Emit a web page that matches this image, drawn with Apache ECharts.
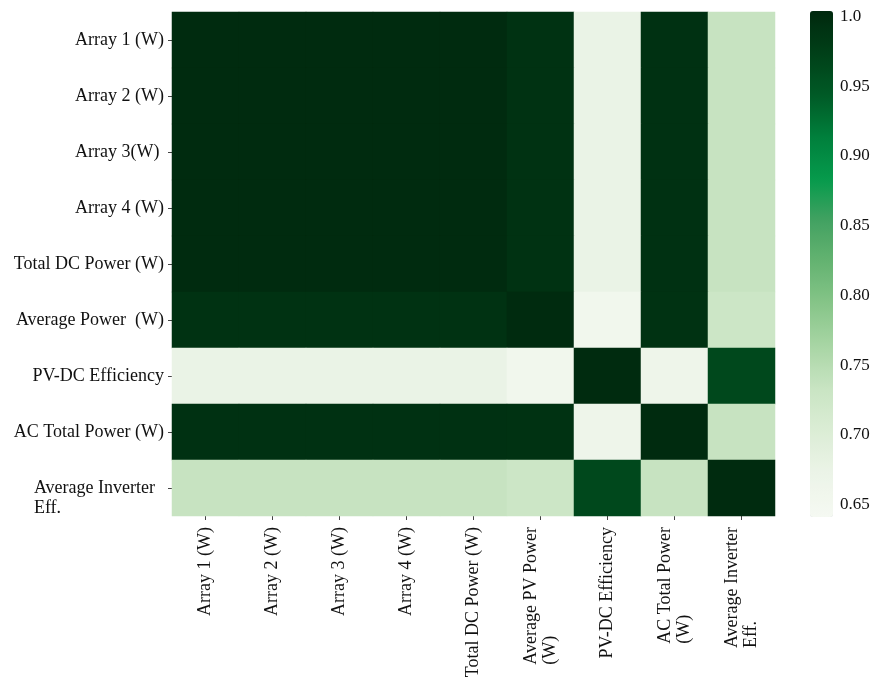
<!DOCTYPE html>
<html>
<head>
<meta charset="utf-8">
<script src="https://cdn.jsdelivr.net/npm/echarts@6/dist/echarts.min.js"></script>
<style>
    html, body { margin: 0; padding: 0; background: #fff; }
    #main { width: 875px; height: 695px; }
</style>
</head>
<body>
<div id="main"></div>
<script>
var rowLabels = ['Array 1 (W)', 'Array 2 (W)', 'Array 3(W) ', 'Array 4 (W)', 'Total DC Power (W)',
    'Average Power  (W)', 'PV-DC Efficiency', 'AC Total Power (W)', 'Average Inverter  \nEff.'];
var colLabels = ['Array 1 (W)', 'Array 2 (W)', 'Array 3 (W)', 'Array 4 (W)', 'Total DC Power (W)',
    'Average PV Power\n(W)', 'PV-DC Efficiency', 'AC Total Power\n(W)', 'Average Inverter\nEff.'];

// one array per row of the correlation matrix
var rowArray1 = [1.00, 1.00, 1.00, 1.00, 1.00, 0.992, 0.675, 0.993, 0.735];
var rowArray2 = [1.00, 1.00, 1.00, 1.00, 1.00, 0.992, 0.675, 0.993, 0.735];
var rowArray3 = [1.00, 1.00, 1.00, 1.00, 1.00, 0.992, 0.675, 0.993, 0.735];
var rowArray4 = [1.00, 1.00, 1.00, 1.00, 1.00, 0.992, 0.675, 0.993, 0.735];
var rowTotalDC = [1.00, 1.00, 1.00, 1.00, 1.00, 0.992, 0.675, 0.993, 0.735];
var rowAvgPower = [0.992, 0.992, 0.992, 0.992, 0.992, 1.00, 0.655, 0.992, 0.728];
var rowPVDC = [0.675, 0.675, 0.675, 0.675, 0.675, 0.655, 1.00, 0.665, 0.965];
var rowACTotal = [0.993, 0.993, 0.993, 0.993, 0.993, 0.992, 0.665, 1.00, 0.735];
var rowInverter = [0.735, 0.735, 0.735, 0.735, 0.735, 0.728, 0.965, 0.735, 1.00];

var cbTicks = [0.65, 0.70, 0.75, 0.80, 0.85, 0.90, 0.95, 1.0];
var cbLabels = ['0.65', '0.70', '0.75', '0.80', '0.85', '0.90', '0.95', '1.0'];

var rows = [rowArray1, rowArray2, rowArray3, rowArray4, rowTotalDC, rowAvgPower, rowPVDC, rowACTotal, rowInverter];
var data = [];
for (var i = 0; i < rows.length; i++) {
    for (var j = 0; j < rows[i].length; j++) {
        data.push([j, i, rows[i][j]]);
    }
}

// lines of a multi-line label are left aligned inside the block
function leftLines(text) {
    return text.split('\n').map(function (s) { return '{l|' + s + '}'; }).join('\n');
}
// y labels: a two-line label starts at the tick and hangs below it
function yLines(text) {
    var parts = text.split('\n');
    if (parts.length === 1) {
        return '{l|' + text + '}';
    }
    return '{l| }\n' + leftLines(text);
}

var font = 'Liberation Serif';
var myChart = echarts.init(document.getElementById('main'));
var option = {
    backgroundColor: '#fff',
    animation: false,
    grid: [{
        left: 172,
        top: 12,
        width: 603,
        height: 504
    }, {
        left: 810,
        top: 11,
        width: 23,
        height: 506
    }],
    xAxis: [{
        type: 'category',
        data: colLabels,
        gridIndex: 0,
        axisLine: { show: false },
        axisTick: { show: true, alignWithLabel: true, length: 4, lineStyle: { color: '#444', width: 1 } },
        axisLabel: {
            rotate: 90,
            interval: 0,
            margin: 11,
            color: '#111',
            fontFamily: font,
            fontSize: 18,
            lineHeight: 19,
            formatter: leftLines,
            rich: { l: { align: 'left', fontFamily: font, fontSize: 18, color: '#111', lineHeight: 19 } }
        },
        splitLine: { show: false }
    }, {
        type: 'value',
        gridIndex: 1,
        show: false,
        min: 0,
        max: 1
    }],
    yAxis: [{
        type: 'category',
        data: rowLabels,
        inverse: true,
        gridIndex: 0,
        axisLine: { show: false },
        axisTick: { show: true, alignWithLabel: true, length: 4, lineStyle: { color: '#444', width: 1 } },
        axisLabel: {
            interval: 0,
            margin: 8,
            color: '#111',
            fontFamily: font,
            fontSize: 18,
            lineHeight: 20,
            formatter: yLines,
            rich: {
                l: { align: 'left', fontFamily: font, fontSize: 18, color: '#111', lineHeight: 20 }
            }
        },
        splitLine: { show: false }
    }, {
        type: 'value',
        gridIndex: 1,
        position: 'right',
        min: 0.641,
        max: 1.004,
        axisLine: { show: false },
        splitLine: { show: false },
        axisTick: { show: true, length: 5, customValues: cbTicks, lineStyle: { color: '#444' } },
        axisLabel: {
            margin: 7,
            color: '#111',
            fontFamily: font,
            fontSize: 17,
            customValues: cbTicks,
            formatter: function (value) {
                for (var k = 0; k < cbTicks.length; k++) {
                    if (Math.abs(cbTicks[k] - value) < 1e-6) {
                        return cbLabels[k];
                    }
                }
                return '';
            }
        }
    }],
    visualMap: {
        type: 'continuous',
        seriesIndex: 0,
        min: 0.641,
        max: 1.004,
        calculable: false,
        orient: 'vertical',
        left: 810,
        top: 11,
        itemWidth: 23,
        itemHeight: 506,
        padding: 0,
        text: null,
        inRange: {
            color: ['#f5f9f2', '#ecf4e8', '#dcedd6', '#cae5c4', '#aad6a6', '#88c68a', '#66b472',
                '#44a262', '#069a4c', '#00803c', '#005a26', '#004018', '#00280e']
        }
    },
    series: [{
        type: 'heatmap',
        xAxisIndex: 0,
        yAxisIndex: 0,
        data: data,
        itemStyle: { borderWidth: 0 },
        emphasis: { disabled: true }
    }]
};
myChart.setOption(option);
</script>
</body>
</html>
